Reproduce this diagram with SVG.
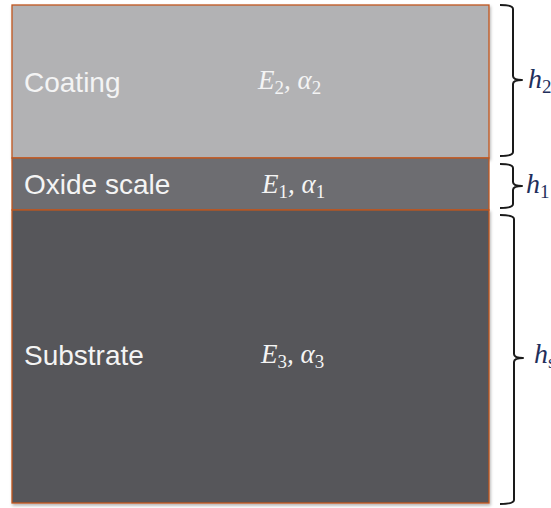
<svg xmlns="http://www.w3.org/2000/svg" width="551" height="508" viewBox="0 0 551 508">
<style>
.layer{stroke:#c0561f;stroke-width:1.3}
.lbl{font-family:"Liberation Sans",Arial,sans-serif;font-size:28px;fill:#f4f4f4}
.math{font-family:"Liberation Serif","Times New Roman",serif;font-style:italic;font-size:27px;fill:#f4f4f4}
.sub{font-style:normal;font-size:19px}
.brace{fill:none;stroke:#1a1a1a;stroke-width:2;stroke-linejoin:round}
.h{font-family:"Liberation Serif","Times New Roman",serif;font-style:italic;font-size:28px;fill:#1f2f5c}
.hs{font-style:normal;font-size:19px}
</style>
<defs>
<filter id="sh" x="-5%" y="-5%" width="110%" height="110%">
<feDropShadow dx="1" dy="2" stdDeviation="1.5" flood-color="#000" flood-opacity="0.3"/>
</filter>
</defs>
<g id="coating">
<rect class="layer" x="12" y="5" width="477" height="153" fill="#b2b2b4" filter="url(#sh)"/>
<text class="lbl" x="24" y="92">Coating</text>
<text class="math" x="258" y="89">E<tspan class="sub" dy="5">2</tspan><tspan dy="-5">, α</tspan><tspan class="sub" dy="5">2</tspan></text>
</g>
<g id="oxide">
<rect class="layer" x="12" y="158" width="477" height="52" fill="#6d6d71"/>
<text class="lbl" x="24" y="194">Oxide scale</text>
<text class="math" x="262" y="193">E<tspan class="sub" dy="5">1</tspan><tspan dy="-5">, α</tspan><tspan class="sub" dy="5">1</tspan></text>
</g>
<g id="substrate">
<rect class="layer" x="12" y="210" width="477" height="293" fill="#56565a" filter="url(#sh)"/>
<text class="lbl" x="24" y="365">Substrate</text>
<text class="math" x="261" y="363">E<tspan class="sub" dy="5">3</tspan><tspan dy="-5">, α</tspan><tspan class="sub" dy="5">3</tspan></text>
</g>
<g id="connectors">
<path class="brace" d="M500,5 Q513,5 513,9 L513,76 Q513,80 522,80 Q513,80 513,84 L513,152 Q513,156 500,156"/>
<path class="brace" d="M500,164 Q513,164 513,168 L513,182 Q513,186 522,186 Q513,186 513,190 L513,204 Q513,208 500,208"/>
<path class="brace" d="M500,215 Q514,215 514,219 L514,354 Q514,358 523,358 Q514,358 514,362 L514,500 Q514,504 500,504"/>
</g>
<g id="h2"><text class="h" x="528" y="88">h<tspan class="hs" dy="5">2</tspan></text></g>
<g id="h1"><text class="h" x="526" y="193">h<tspan class="hs" dy="5">1</tspan></text></g>
<g id="hs"><text class="h" x="534" y="363">h<tspan class="hs" dy="5">s</tspan></text></g>
</svg>
